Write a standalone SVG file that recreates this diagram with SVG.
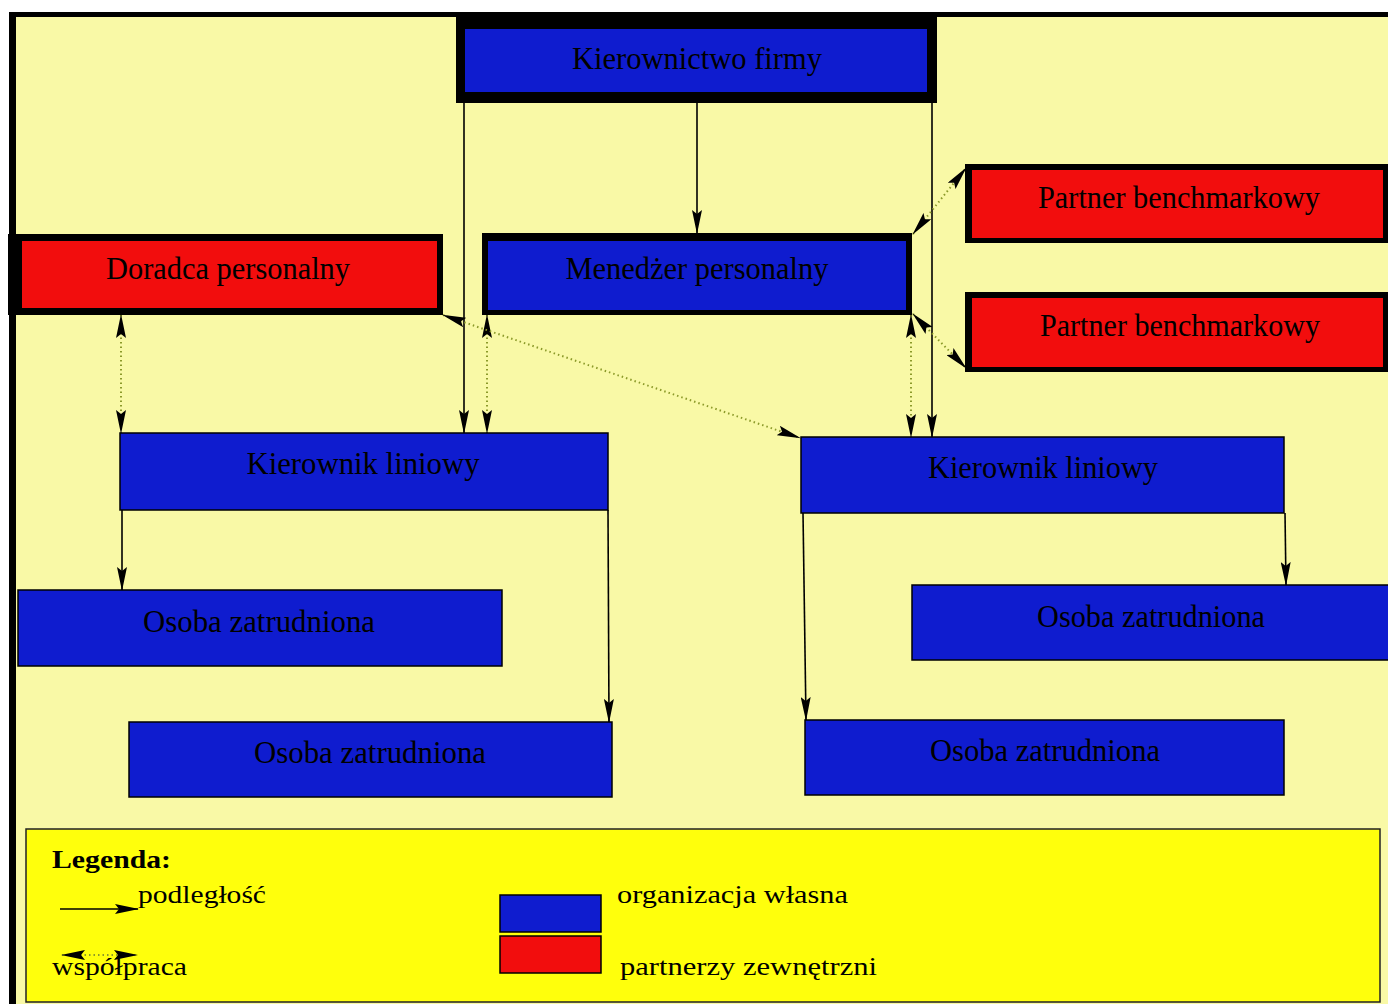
<svg xmlns="http://www.w3.org/2000/svg" width="1388" height="1004" viewBox="0 0 1388 1004">
  <style>
    .own { fill: #0f1ccf; }
    .ext { fill: #f20d0d; }
    .frame { fill: #000; }
    .thin { stroke: #000; stroke-width: 1.5; }
    .lbl { font-family: "Liberation Serif", "Times New Roman", serif; font-size: 31px; fill: #000; text-anchor: middle; }
    .leg { font-family: "Liberation Serif", "Times New Roman", serif; font-size: 25px; fill: #000; }
    .solid { stroke: #000; stroke-width: 1.6; fill: none; }
    .dot { stroke: #8c9a2a; stroke-width: 2; stroke-dasharray: 1.5 3; fill: none; }
  </style>
  <defs>
    <marker id="head" markerUnits="userSpaceOnUse" viewBox="0 0 24 10" markerWidth="24" markerHeight="10" refX="23" refY="5" orient="auto-start-reverse">
      <path d="M0,0 L24,5 L0,10 L4,5 z" fill="#000"/>
    </marker>
  </defs>

  <!-- page -->
  <rect x="0" y="0" width="1388" height="1004" fill="#fff"/>
  <rect x="12" y="14" width="1376" height="990" fill="#f9f9a6"/>
  <rect x="9" y="12" width="1379" height="5" fill="#000"/>
  <rect x="9" y="12" width="7" height="992" fill="#000"/>

  <!-- legend panel -->
  <rect x="26" y="829" width="1354" height="173" fill="#ffff0c" stroke="#222" stroke-width="1.5"/>

  <g id="connectors">
    <!-- reporting lines -->
    <line class="solid" x1="464" y1="103" x2="464" y2="433" marker-end="url(#head)"/>
    <line class="solid" x1="697" y1="103" x2="697" y2="233" marker-end="url(#head)"/>
    <line class="solid" x1="932" y1="103" x2="932" y2="437" marker-end="url(#head)"/>
    <line class="solid" x1="122" y1="510" x2="122" y2="590" marker-end="url(#head)"/>
    <line class="solid" x1="608" y1="510" x2="609" y2="722" marker-end="url(#head)"/>
    <line class="solid" x1="1285" y1="513" x2="1286" y2="585" marker-end="url(#head)"/>
    <line class="solid" x1="803" y1="513" x2="806" y2="720" marker-end="url(#head)"/>
    <!-- cooperation links -->
    <line class="dot" x1="121" y1="315" x2="121" y2="433" marker-start="url(#head)" marker-end="url(#head)"/>
    <line class="dot" x1="487" y1="315" x2="487" y2="433" marker-start="url(#head)" marker-end="url(#head)"/>
    <line class="dot" x1="443" y1="315" x2="800" y2="438" marker-start="url(#head)" marker-end="url(#head)"/>
    <line class="dot" x1="911" y1="315" x2="911" y2="437" marker-start="url(#head)" marker-end="url(#head)"/>
    <line class="dot" x1="913" y1="234" x2="966" y2="168" marker-start="url(#head)" marker-end="url(#head)"/>
    <line class="dot" x1="913" y1="314" x2="966" y2="368" marker-start="url(#head)" marker-end="url(#head)"/>
  </g>

  <g id="kierownictwo">
    <rect class="frame" x="456" y="17" width="481" height="86"/>
    <rect class="own" x="465" y="29" width="462" height="63"/>
    <text class="lbl" x="697" y="69" textLength="250" lengthAdjust="spacingAndGlyphs">Kierownictwo firmy</text>
  </g>

  <g id="menedzer">
    <rect class="frame" x="482" y="233" width="430" height="82"/>
    <rect class="own" x="488" y="241" width="418" height="69"/>
    <text class="lbl" x="697" y="279" textLength="263" lengthAdjust="spacingAndGlyphs">Menedżer personalny</text>
  </g>

  <g id="doradca">
    <rect class="frame" x="8" y="234" width="435" height="81"/>
    <rect class="ext" x="22" y="241" width="415" height="67"/>
    <text class="lbl" x="228" y="279" textLength="244" lengthAdjust="spacingAndGlyphs">Doradca personalny</text>
  </g>

  <g id="partner1">
    <rect class="frame" x="965" y="164" width="423" height="79"/>
    <rect class="ext" x="972" y="170" width="411" height="68"/>
    <text class="lbl" x="1179" y="208" textLength="282" lengthAdjust="spacingAndGlyphs">Partner benchmarkowy</text>
  </g>

  <g id="partner2">
    <rect class="frame" x="965" y="292" width="423" height="80"/>
    <rect class="ext" x="972" y="298" width="411" height="69"/>
    <text class="lbl" x="1180" y="336" textLength="280" lengthAdjust="spacingAndGlyphs">Partner benchmarkowy</text>
  </g>

  <g id="kierownik1">
    <rect class="own thin" x="120" y="433" width="488" height="77"/>
    <text class="lbl" x="363" y="474" textLength="233" lengthAdjust="spacingAndGlyphs">Kierownik liniowy</text>
  </g>

  <g id="kierownik2">
    <rect class="own thin" x="801" y="437" width="483" height="76"/>
    <text class="lbl" x="1043" y="478" textLength="230" lengthAdjust="spacingAndGlyphs">Kierownik liniowy</text>
  </g>

  <g id="osoba1">
    <rect class="own thin" x="18" y="590" width="484" height="76"/>
    <text class="lbl" x="259" y="632" textLength="232" lengthAdjust="spacingAndGlyphs">Osoba zatrudniona</text>
  </g>

  <g id="osoba2">
    <rect class="own thin" x="129" y="722" width="483" height="75"/>
    <text class="lbl" x="370" y="763" textLength="232" lengthAdjust="spacingAndGlyphs">Osoba zatrudniona</text>
  </g>

  <g id="osoba3">
    <rect class="own thin" x="912" y="585" width="478" height="75"/>
    <text class="lbl" x="1151" y="627" textLength="228" lengthAdjust="spacingAndGlyphs">Osoba zatrudniona</text>
  </g>

  <g id="osoba4">
    <rect class="own thin" x="805" y="720" width="479" height="75"/>
    <text class="lbl" x="1045" y="761" textLength="230" lengthAdjust="spacingAndGlyphs">Osoba zatrudniona</text>
  </g>

  <g id="legenda">
    <text class="leg" x="52" y="868" font-weight="bold" textLength="119" lengthAdjust="spacingAndGlyphs">Legenda:</text>
    <line class="solid" x1="60" y1="909" x2="138" y2="909" marker-end="url(#head)"/>
    <text class="leg" x="138" y="903" textLength="128" lengthAdjust="spacingAndGlyphs">podległość</text>
    <line class="dot" x1="62" y1="955" x2="137" y2="955" marker-start="url(#head)" marker-end="url(#head)"/>
    <text class="leg" x="52" y="975" textLength="135" lengthAdjust="spacingAndGlyphs">współpraca</text>
    <rect class="own thin" x="500" y="895" width="101" height="37"/>
    <rect class="ext thin" x="500" y="936" width="101" height="37"/>
    <text class="leg" x="617" y="903" textLength="231" lengthAdjust="spacingAndGlyphs">organizacja własna</text>
    <text class="leg" x="620" y="975" textLength="257" lengthAdjust="spacingAndGlyphs">partnerzy zewnętrzni</text>
  </g>
</svg>
